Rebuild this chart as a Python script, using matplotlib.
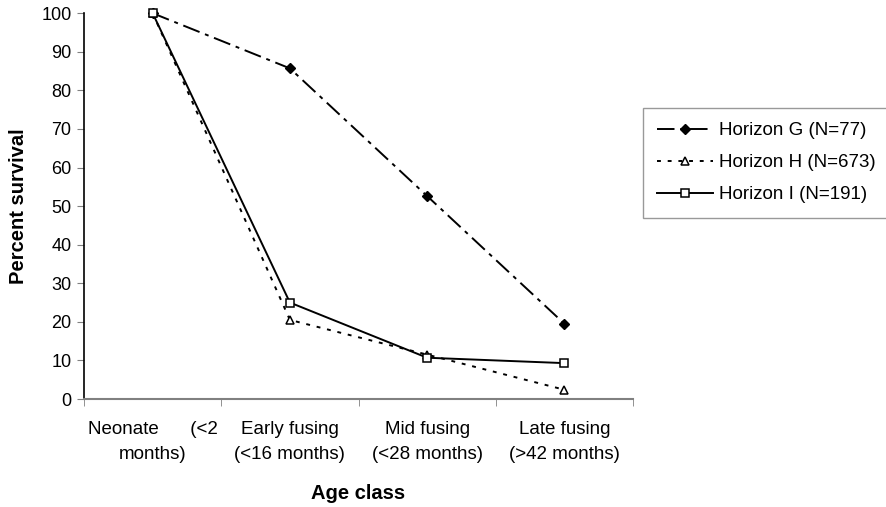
import matplotlib
matplotlib.use("Agg")
import matplotlib.pyplot as plt

plt.rcParams['font.family'] = ['Liberation Sans', 'DejaVu Sans']

categories = ["Neonate      (<2\nmonths)", "Early fusing\n(<16 months)",
              "Mid fusing\n(<28 months)", "Late fusing\n(>42 months)"]
horizon_g = [100, 85.7, 52.6, 19.5]
horizon_h = [100, 20.5, 11.5, 2.4]
horizon_i = [100, 25.0, 10.7, 9.3]
series_labels = ["Horizon G (N=77)", "Horizon H (N=673)", "Horizon I (N=191)"]
y_ticks = list(range(0, 101, 10))

fig = plt.figure(figsize=(8.87, 5.07), dpi=100)
ax = fig.add_axes([0.0947, 0.213, 0.619, 0.761])

x = list(range(len(categories)))
ax.plot(x, horizon_g, color='black', lw=1.4, dashes=(9, 3, 2, 3),
        marker='D', ms=5, mfc='black', mec='black', label=series_labels[0], clip_on=False)
ax.plot(x, horizon_h, color='black', lw=1.4, dashes=(2, 3.5),
        marker='^', ms=6, mfc='white', mec='black', mew=1.1, label=series_labels[1], clip_on=False)
ax.plot(x, horizon_i, color='black', lw=1.4, linestyle='-',
        marker='s', ms=6, mfc='white', mec='black', mew=1.1, label=series_labels[2], clip_on=False)

ax.set_xlim(-0.5, len(categories) - 0.5)
ax.set_ylim(0, 100)
ax.set_yticks(y_ticks)
ax.tick_params(axis='y', labelsize=13, length=5, color='#808080', direction='out', pad=4)

ax.set_xticks(x)
ax.set_xticklabels(categories, fontsize=13.5, linespacing=1.6)
ax.tick_params(axis='x', length=0, pad=16)
ax.set_xticks([i - 0.5 for i in range(len(categories) + 1)], minor=True)
ax.tick_params(axis='x', which='minor', length=5, color='#808080', direction='out')

for side in ('top', 'right'):
    ax.spines[side].set_visible(False)
ax.spines['left'].set_color('black')
ax.spines['left'].set_linewidth(1.2)
ax.spines['bottom'].set_color('#808080')
ax.spines['bottom'].set_linewidth(1.5)

ax.set_xlabel("Age class", fontsize=14.5, fontweight='bold')
ax.set_ylabel("Percent survival", fontsize=14.5, fontweight='bold')
ax.xaxis.set_label_coords(0.5, -0.246, transform=ax.transAxes)
ax.yaxis.set_label_coords(-0.12, 0.5, transform=ax.transAxes)
ax.xaxis.label.set_va('center')
ax.yaxis.label.set_va('center')

leg = fig.legend(loc='upper left', bbox_to_anchor=(643 / 887, 1 - 108 / 507),
                 frameon=True, fancybox=False, fontsize=13.5, handlelength=3.0,
                 borderpad=0.75, labelspacing=0.8, handletextpad=0.3,
                 borderaxespad=0)
leg.get_frame().set_edgecolor('#808080')
leg.get_frame().set_linewidth(1.0)

fig.savefig("out.png", dpi=100)
